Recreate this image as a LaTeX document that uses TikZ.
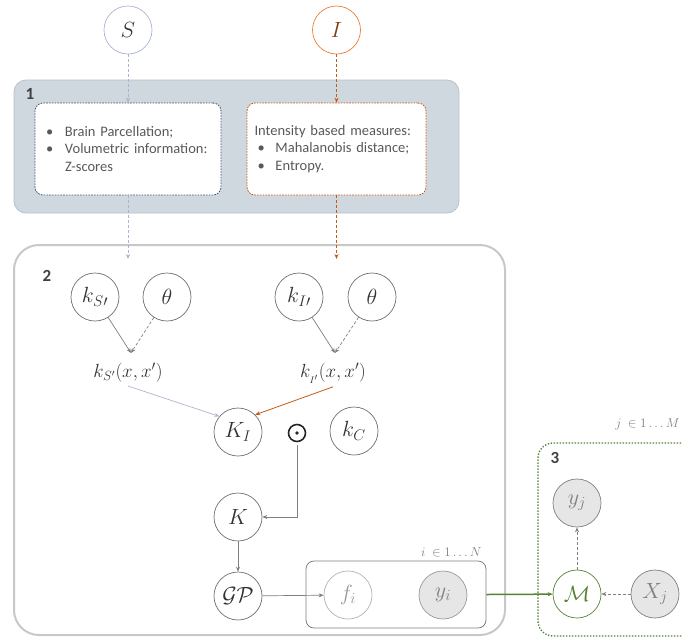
\RequirePackage{fix-cm}
\documentclass[tikz,border=0pt]{standalone}
\usepackage{fontspec}
\setmainfont{Carlito}
\usetikzlibrary{arrows.meta}
\definecolor{sblue}{HTML}{A9B5CF}
\definecolor{iorange}{HTML}{ED7D31}
\definecolor{idark}{HTML}{843C0C}
\definecolor{oarr}{HTML}{C55A11}
\definecolor{bfill}{HTML}{CFD8DF}
\definecolor{bdraw}{HTML}{B5C2CE}
\definecolor{navy}{HTML}{44546A}
\definecolor{txtgray}{HTML}{595959}
\definecolor{cgray}{HTML}{6E6E6E}
\definecolor{agray}{HTML}{7F7F7F}
\definecolor{lgray}{HTML}{C8C8C8}
\definecolor{ofill}{HTML}{E6E6E6}
\definecolor{ggreen}{HTML}{548235}
\tikzset{
  var/.style={circle, draw=cgray, line width=0.7pt, minimum size=48pt, inner sep=0pt,
    text=black!80, font=\fontsize{22}{24}\selectfont},
  obs/.style={var, fill=ofill, draw=agray, text=agray},
  tip/.style={-{Stealth[length=5pt,width=4pt]}},
  garr/.style={tip, draw=agray, line width=0.7pt},
  gdash/.style={garr, dash pattern=on 3pt off 2pt},
  innerbox/.style={rectangle, rounded corners=8pt, fill=white, line width=0.8pt,
    dash pattern=on 1.6pt off 1.2pt, minimum height=92pt, text=txtgray,
    font=\fontsize{14.5}{17.5}\selectfont, align=left},
  secnum/.style={font=\fontsize{17}{17}\selectfont\bfseries, text=black!75},
  kerntxt/.style={font=\fontsize{19}{21}\selectfont, text=black!80},
  platelbl/.style={font=\fontsize{13}{15}\selectfont, text=agray},
}
\begin{document}
\begin{tikzpicture}[x=1pt,y=-1pt]
\useasboundingbox (0,0) rectangle (682,638);

% box 1
\node[draw=bdraw, fill=bfill, rounded corners=12pt, line width=0.8pt,
  minimum width=445pt, minimum height=133pt] (b1) at (236.5,146.5) {};
\node[secnum] (n1) at (30,94) {1};
\node[innerbox, draw=navy, minimum width=186pt, text width=170pt] (b1l) at (128,149)
  {\hspace*{3pt}\makebox[19pt][l]{•}Brain Parcellation;\\
   \hspace*{3pt}\makebox[19pt][l]{•}Volumetric information:\\
   \hspace*{22pt}Z-scores};
\node[innerbox, draw=oarr, minimum width=179pt, text width=164pt] (b1r) at (336.5,149)
  {Intensity based measures:\\
   \hspace*{3pt}\makebox[18pt][l]{•}Mahalanobis distance;\\
   \hspace*{3pt}\makebox[18pt][l]{•}Entropy.};

% inputs
\node[var, draw=sblue, text=black!80] (S) at (128,30) {$S$};
\node[var, draw=iorange, text=idark] (I) at (336.5,30) {$I$};

% box 2
\node[draw=lgray, line width=2pt, rounded corners=25pt,
  minimum width=491pt, minimum height=390pt] (b2) at (259.5,440) {};
\node[secnum] (n2) at (47,276) {2};

\coordinate (sEnd) at (128,259);
\coordinate (iEnd) at (336.5,259);
\draw[tip, draw=sblue, line width=0.7pt, dash pattern=on 3pt off 2pt] (S) -- (b1l);
\draw[tip, draw=sblue, line width=0.7pt, dash pattern=on 3pt off 2pt] (b1l) -- (sEnd);
\draw[tip, draw=oarr, line width=0.7pt, dash pattern=on 3pt off 2pt] (I) -- (b1r);
\draw[tip, draw=oarr, line width=0.7pt, dash pattern=on 3pt off 2pt] (b1r) -- (iEnd);

\node[var] (ks) at (95,297) {$k_{S\prime}$};
\node[var] (th1) at (167,297) {$\theta$};
\node[var] (ki) at (299,297) {$k_{I\prime}$};
\node[var] (th2) at (372,297) {$\theta$};

\node[kerntxt] (kst) at (128,373) {$k_{S'}(x,x')$};
\node[kerntxt] (kit) at (333,373) {$k_{_{I'}}(x,x')$};
\coordinate (cs) at (131,353);
\coordinate (ci) at (335,353);
\draw[garr] (ks) -- (cs);
\draw[gdash] (th1) -- (cs);
\draw[garr] (ki) -- (ci);
\draw[gdash] (th2) -- (ci);

\node[var] (KI) at (238,432) {$K_I$};
\node[circle, draw=black!85, line width=1.6pt, minimum size=17pt, inner sep=0pt] (od) at (297,433) {};
\fill[black!85] (od.center) circle (1.8pt);
\node[var] (kC) at (354,431) {$k_C$};
\draw[tip, draw=sblue, line width=0.7pt] (kst.south) -- (KI.140);
\draw[tip, draw=oarr, line width=0.8pt] (kit.south) -- (KI.45);

\node[var] (K) at (238,517) {$K$};
\draw[garr] ([yshift=-3pt]od.south) |- (K.east);
\node[var] (GP) at (238,596) {$\mathcal{G}\mathcal{P}$};
\draw[garr] (K) -- (GP);

\node[draw=agray, line width=0.8pt, rounded corners=8pt, minimum width=180pt,
  minimum height=67pt] (plate) at (396,594.5) {};
\node[platelbl, anchor=east] (plbl) at (485,552) {$i\ \in 1\ldots N$};
\node[var, draw=agray!60, text=agray!80] (fi) at (348,595) {$f_i$};
\node[obs, draw=agray!80] (yi) at (443,595) {$y_i$};
\draw[garr] (GP) -- (fi);

% box 3
\node[draw=ggreen, line width=1.4pt, dash pattern=on 1.3pt off 1.7pt, rounded corners=15pt,
  minimum width=170pt, minimum height=193pt] (b3) at (623,539.5) {};
\node[secnum] (n3) at (555,458) {3};
\node[platelbl, anchor=east] (jlbl) at (683,424) {$j\ \in 1\ldots M$};

\node[var, draw=ggreen, text=ggreen] (M) at (577,594) {$\mathcal{M}$};
\node[obs] (yj) at (577,503) {$y_j$};
\node[obs] (Xj) at (655,594) {$X_j$};
\draw[gdash] (M) -- (yj);
\draw[gdash] (Xj) -- (M);
\draw[tip, draw=ggreen, line width=1.5pt] (plate.east) -- (M);
\end{tikzpicture}
\end{document}
